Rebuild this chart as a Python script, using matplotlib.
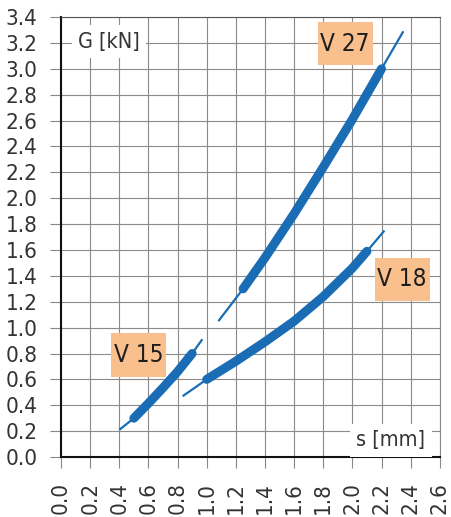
import numpy as np
import matplotlib
matplotlib.use("Agg")
import matplotlib.pyplot as plt
from matplotlib.patches import Rectangle

plt.rcParams['font.family'] = ['DejaVu Sans']
plt.rcParams['font.stretch'] = 'condensed'

# spring curves: thick = working range, thin = extensions
v15_x = [0.5, 0.6, 0.7, 0.8, 0.9]
v15_y = [0.3, 0.415, 0.535, 0.66, 0.8]
v15_ext_x = [[0.4, 0.5], [0.9, 0.97]]
v15_ext_y = [[0.21, 0.3], [0.8, 0.91]]

v18_x = [1.0, 1.2, 1.4, 1.6, 1.8, 2.0, 2.1]
v18_y = [0.6, 0.74, 0.89, 1.05, 1.24, 1.46, 1.59]
v18_ext_x = [[0.835, 1.0], [2.1, 2.22]]
v18_ext_y = [[0.47, 0.6], [1.59, 1.75]]

v27_x = [1.25, 1.4, 1.6, 1.8, 2.0, 2.2]
v27_y = [1.3, 1.54, 1.88, 2.24, 2.61, 3.0]
v27_ext_x = [[1.08, 1.25], [2.2, 2.35]]
v27_ext_y = [[1.05, 1.3], [3.0, 3.29]]

labels = ["V 15", "V 18", "V 27"]
label_pos = [(0.532, 0.788), (2.342, 1.372), (1.951, 3.195)]

xticks = np.round(np.arange(0, 2.61, 0.2), 1)
yticks = np.round(np.arange(0, 3.41, 0.2), 1)

blue = "#1a6db5"
box = "#f9c08e"
txt = "#333333"

fig = plt.figure(figsize=(4.52, 5.17), dpi=100)
ax = fig.add_axes([0.135, 0.116, 0.838, 0.851])

for xs, ys, ex, ey in [(v15_x, v15_y, v15_ext_x, v15_ext_y),
                       (v18_x, v18_y, v18_ext_x, v18_ext_y),
                       (v27_x, v27_y, v27_ext_x, v27_ext_y)]:
    for a, b in zip(ex, ey):
        ax.plot(a, b, color=blue, lw=1.6, solid_capstyle='butt', zorder=3)
    ax.plot(xs, ys, color=blue, lw=6.5, solid_capstyle='round',
            solid_joinstyle='round', zorder=4)

bw, bh = 0.38, 0.335
for t, (x, y) in zip(labels, label_pos):
    ax.add_patch(Rectangle((x - bw / 2, y - bh / 2), bw, bh, fc=box, ec='none', zorder=5))
    ax.text(x, y, t, fontsize=17.5, ha='center', va='center', color='#1e1e1e', zorder=6)

ax.text(0.117, 3.21, "G [kN]", fontsize=15.5, ha='left', va='center', color=txt,
        zorder=5, bbox=dict(boxstyle='square,pad=0.3', fc='white', ec='none'))
ax.text(2.5, 0.13, "s [mm]", fontsize=15.5, ha='right', va='center', color=txt,
        zorder=5, bbox=dict(boxstyle='square,pad=0.3', fc='white', ec='none'))

ax.set_xlim(0, 2.6)
ax.set_ylim(0, 3.4)
ax.set_xticks(xticks)
ax.set_yticks(yticks)
ax.set_xticklabels([f"{v:.1f}" for v in xticks], rotation=90, fontsize=16, color=txt)
ax.set_yticklabels([f"{v:.1f}" for v in yticks], fontsize=16, color=txt)
ax.tick_params(axis='both', length=8, width=0.8, color='#888888')
ax.tick_params(axis='y', pad=9)
ax.tick_params(axis='x', pad=10)
ax.grid(True, color='#8a8a8a', lw=0.8)
ax.set_axisbelow(True)

ax.spines['top'].set_color('#555555')
ax.spines['right'].set_color('#888888')
for s in ['left', 'bottom']:
    ax.spines[s].set_color('#111111')
    ax.spines[s].set_linewidth(1.5)

fig.savefig("out.png", dpi=100)
